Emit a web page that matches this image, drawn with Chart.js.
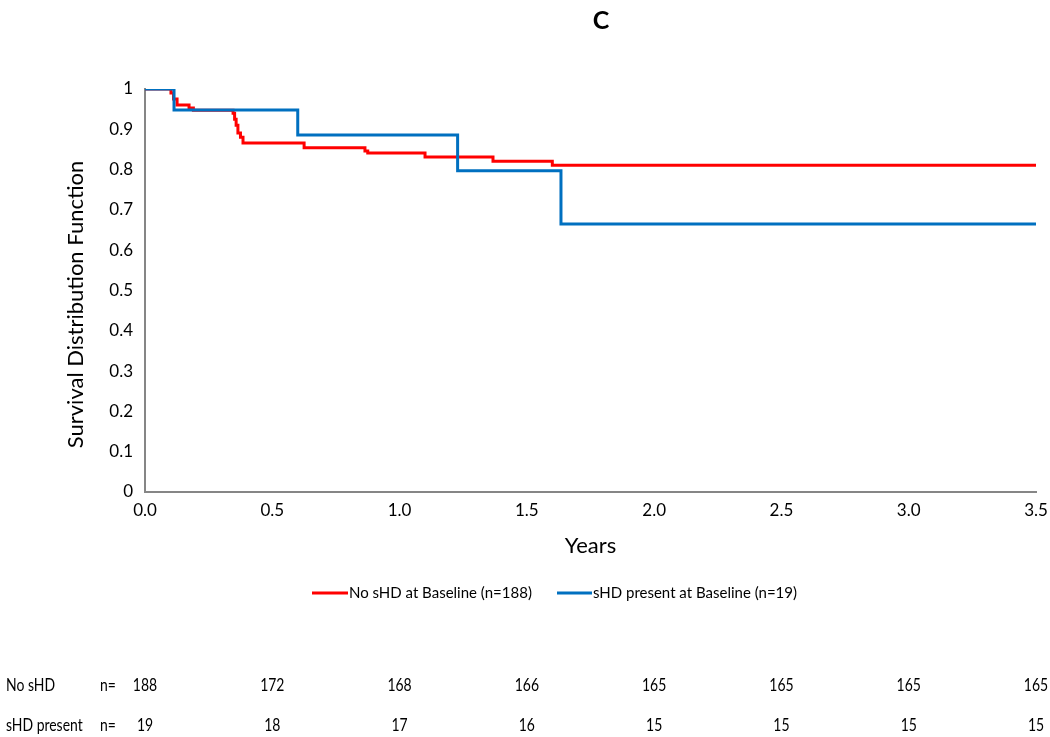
<!DOCTYPE html>
<html>
<head>
<meta charset="utf-8">
<script src="https://cdn.jsdelivr.net/npm/chart.js@4/dist/chart.umd.min.js"></script>
<style>
html,body{margin:0;padding:0;background:#fff;}
#wrap{width:1050px;height:737px;position:relative;}
</style>
</head>
<body>
<div id="wrap"><canvas id="km"></canvas></div>
<script>
// Kaplan-Meier steps (years, survival)
const noShdT = [0, 0.102, 0.112, 0.126, 0.173, 0.19, 0.346, 0.352, 0.358, 0.365, 0.375, 0.385, 0.625, 0.864, 0.875, 1.10, 1.367, 1.60, 3.5];
const noShdS = [1, 0.99, 0.975, 0.96, 0.953, 0.947, 0.94, 0.925, 0.91, 0.891, 0.88, 0.866, 0.854, 0.846, 0.841, 0.831, 0.821, 0.811, 0.811];
const shdT = [0, 0.114, 0.60, 1.228, 1.634, 3.5];
const shdS = [1, 0.948, 0.886, 0.797, 0.665, 0.665];

// numbers at risk
const riskTimes = [0, 0.5, 1.0, 1.5, 2.0, 2.5, 3.0, 3.5];
const riskNoShd = [188, 172, 168, 166, 165, 165, 165, 165];
const riskShd = [19, 18, 17, 16, 15, 15, 15, 15];

const legendLabels = ['No sHD at Baseline (n=188)', 'sHD present at Baseline (n=19)'];
const RED = '#ff0000', BLUE = '#0070c0';
const FONT = 'Lato, "Open Sans", sans-serif';

function pts(t, s){ return t.map((x,i) => ({x:x, y:s[i]})); }

// narrow text, like the condensed table font in the original
function narrowText(ctx, txt, x, y, align){
  const sx = 0.82;
  ctx.save();
  ctx.translate(x, y);
  ctx.scale(sx, 1);
  ctx.textAlign = align;
  ctx.fillText(txt, 0, 0);
  ctx.restore();
}

const extras = {
  id: 'extras',
  afterDraw(chart){
    const ctx = chart.ctx, xs = chart.scales.x, ys = chart.scales.y;
    ctx.save();
    ctx.fillStyle = '#000';
    // title
    ctx.font = 'bold 25px ' + FONT;
    ctx.textAlign = 'center'; ctx.textBaseline = 'middle';
    ctx.fillText('C', 601, 21);
    // axis titles
    ctx.font = '22px ' + FONT;
    ctx.fillText('Years', (xs.left + xs.right)/2, 546);
    ctx.save();
    ctx.translate(76, (ys.top + ys.bottom)/2 + 14);
    ctx.rotate(-Math.PI/2);
    ctx.fillText('Survival Distribution Function', 0, 0);
    ctx.restore();
    // legend
    ctx.font = '15px ' + FONT;
    ctx.textAlign = 'left';
    ctx.lineWidth = 3;
    ctx.strokeStyle = RED;
    ctx.beginPath(); ctx.moveTo(312, 593); ctx.lineTo(348, 593); ctx.stroke();
    ctx.fillText(legendLabels[0], 349, 593);
    ctx.strokeStyle = BLUE;
    ctx.beginPath(); ctx.moveTo(557, 593); ctx.lineTo(592, 593); ctx.stroke();
    ctx.fillText(legendLabels[1], 593, 593);
    // risk table
    const r1 = 686, r2 = 726;
    ctx.font = '17px ' + FONT;
    narrowText(ctx, 'No sHD', 6, r1, 'left');
    narrowText(ctx, 'sHD present', 6, r2, 'left');
    narrowText(ctx, 'n=', 100, r1, 'left');
    narrowText(ctx, 'n=', 100, r2, 'left');
    riskTimes.forEach((t, i) => {
      const px = xs.getPixelForValue(t);
      narrowText(ctx, String(riskNoShd[i]), px, r1, 'center');
      narrowText(ctx, String(riskShd[i]), px, r2, 'center');
    });
    ctx.restore();
  }
};

new Chart(document.getElementById('km'), {
  type: 'line',
  data: {
    datasets: [
      { label: legendLabels[1], data: pts(shdT, shdS), borderColor: BLUE, borderWidth: 3, stepped: 'before', pointRadius: 0, fill: false, order: 1 },
      { label: legendLabels[0], data: pts(noShdT, noShdS), borderColor: RED, borderWidth: 3, stepped: 'before', pointRadius: 0, fill: false, order: 2 }
    ]
  },
  options: {
    responsive: true,
    maintainAspectRatio: false,
    animation: false,
    layout: { padding: { top: 89, right: 14, left: 0, bottom: 0 } },
    plugins: { legend: { display: false }, tooltip: { enabled: false }, title: { display: false } },
    scales: {
      x: {
        type: 'linear', min: 0, max: 3.5,
        afterFit(s){ s.height = 737 - 492; },
        grid: { display: false, drawTicks: true, tickLength: 6, color: '#868686' },
        border: { color: '#868686', width: 2 },
        ticks: { stepSize: 0.5, color: '#000', font: { family: FONT, size: 17 }, padding: 2, maxRotation: 0,
          callback: v => Number(v).toFixed(1) }
      },
      y: {
        min: 0, max: 1,
        afterFit(s){ s.width = 145; },
        grid: { display: false, drawTicks: true, tickLength: 6, color: '#868686' },
        border: { color: '#868686', width: 2 },
        ticks: { stepSize: 0.1, color: '#000', font: { family: FONT, size: 17 }, padding: 6,
          callback: v => String(Math.round(v*10)/10) }
      }
    }
  },
  plugins: [extras]
});
</script>
</body>
</html>
